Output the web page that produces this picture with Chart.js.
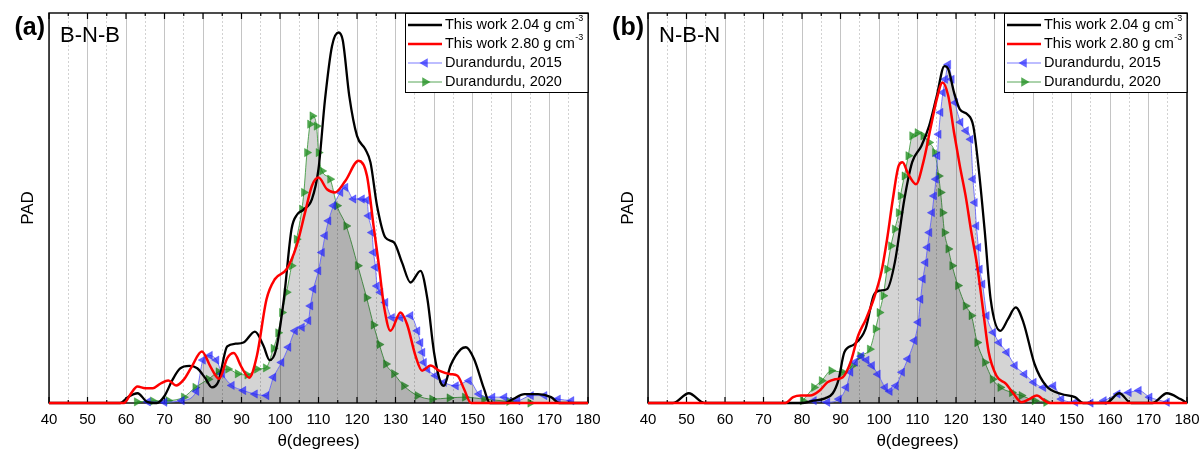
<!DOCTYPE html>
<html>
<head>
<meta charset="utf-8">
<script src="https://cdn.jsdelivr.net/npm/chart.js@4.4.0/dist/chart.umd.min.js"></script>
<style>
  html, body { margin: 0; padding: 0; background: #fff; }
  #wrap { display: flex; width: 1202px; height: 456px; }
  #wrap > div { position: relative; height: 456px; }
</style>
</head>
<body>
<div id="wrap">
  <div style="width:600px"><canvas id="chartA"></canvas></div>
  <div style="width:602px"><canvas id="chartB"></canvas></div>
</div>
<script>
// shared text
const FONT = "'Liberation Sans', Arial, sans-serif";
const seriesLabels = ['This work 2.04 g cm^-3', 'This work 2.80 g cm^-3', 'Durandurdu, 2015', 'Durandurdu, 2020'];
const panelLetters = ['(a)', '(b)'];
const panelNames = ['B-N-B', 'N-B-N'];

// ---- panel (a): B-N-B ----
const bnbBlackX = [40, 58.5, 60.5, 63, 65.5, 68, 70, 72, 74, 76.5, 78.5, 80.5, 82.3, 84, 86.3, 88.5, 90.5, 93.5, 95.7, 97.3, 99, 101, 103, 104.5, 106, 108.3, 110, 111.7, 113.5, 115.2, 116.3, 118, 120, 122.2, 123.5, 125.2, 127.4, 129.6, 131.7, 133.9, 136.5, 138.3, 140, 141.7, 142.6, 144.3, 147, 148.3, 150.4, 153, 154.5, 158.5, 160.5, 163.5, 167, 170.4, 172.5, 180];
const bnbBlackY = [0, 0, 1.5, 2.5, 0.3, 0, 1.8, 5.8, 8.8, 9.5, 8.9, 6.5, 4, 5.5, 14.5, 15.2, 15.5, 18.3, 14.7, 11, 13.8, 26.6, 44.6, 48.4, 49.5, 52.3, 60, 77.9, 91.5, 95, 93, 78.7, 68.5, 65, 61.7, 50.6, 42.4, 41.2, 36, 30.9, 33.9, 26.6, 13, 5.3, 4.4, 9.6, 13.8, 14.3, 11.3, 3.6, 0, 0, 1, 2.3, 2.3, 1.5, 0, 0];

const bnbRedX = [40, 59.5, 61, 63, 65, 67, 69, 71, 73, 75, 77, 79.7, 82, 84.2, 86.3, 88, 90, 92, 94, 96.5, 98.7, 101.7, 104.3, 106.5, 108.3, 110, 112.2, 114.3, 117, 120.4, 122.6, 124.3, 125.7, 127, 128.7, 131.3, 133, 135.2, 136.9, 139.1, 141.3, 144.3, 146.1, 147.8, 149.6, 180];
const bnbRedY = [0, 0, 2, 4.2, 3.8, 3.8, 5, 5.8, 4.5, 6, 9.2, 13.2, 9.2, 6.2, 11.5, 12.8, 9.2, 6.5, 12.1, 26.6, 31.8, 34.3, 40.3, 48.8, 55.7, 57.8, 54.8, 54, 57, 62.1, 58.2, 45.4, 35.2, 24.9, 18.5, 23.2, 20.2, 12.1, 8.3, 9.6, 8.3, 7.4, 7, 3.6, 0, 0];

const bnbBlueX = [65.7, 70, 74.5, 78.3, 80, 81.8, 83.5, 85, 87.5, 90.5, 93.5, 96.5, 98.3, 100.4, 102.2, 103.9, 105.7, 107.4, 107.9, 108.7, 110, 110.9, 111.7, 112.6, 113.9, 115.7, 117, 119.1, 121.3, 122.6, 123, 123.9, 124.3, 124.8, 125.2, 126.1, 127.4, 129.1, 131.3, 133.9, 135.7, 136.5, 137, 137.4, 138.3, 140.4, 142.6, 145.7, 149.1, 151.7, 155.2, 158.3, 161.7, 165.2, 168.7, 172.2, 175.7];
const bnbBlueY = [0.3, 0.2, 0.6, 3, 11, 12.2, 11, 7.5, 4.5, 3.2, 2.3, 1.9, 6.6, 10.4, 14.3, 18.5, 19.4, 21.1, 24.9, 29.2, 33.9, 38.6, 42.9, 46.7, 50.6, 54, 55.3, 52.3, 52.3, 52, 48, 43.7, 38.6, 34.8, 30, 28.4, 25.8, 21.9, 21.9, 22.4, 18.5, 15.5, 13, 10.4, 8.7, 7, 5.3, 4.4, 5.7, 2.3, 1.5, 1.5, 0.6, 1.9, 1.9, 1, 0.6];

const bnbGreenX = [62.8, 67, 71, 75, 78, 81.4, 84, 86.5, 89, 91.5, 94, 96.3, 98.3, 99.5, 100.5, 101.7, 103, 104.3, 105.7, 106.2, 107, 107.8, 108.4, 109.5, 110, 110.9, 113, 114.8, 117.2, 120.2, 122.5, 124.3, 125.8, 127.5, 129.6, 132.2, 135.7, 139.5, 144, 148, 153, 159.5, 165];
const bnbGreenY = [0.3, 0.5, 0.6, 1.5, 4, 6.1, 8, 8.7, 7.5, 7.2, 8.7, 9, 14, 18, 23.2, 28.4, 35.2, 42, 49.7, 54, 64.2, 71.5, 73.6, 71, 64.2, 59.5, 57.4, 50.6, 45.4, 35.2, 27, 20, 15, 10, 7.5, 4.4, 1.9, 1, 1.3, 1.5, 1, 0.4, 0];

// ---- panel (b): N-B-N ----
const nbnBlackX = [40, 46.5, 50.6, 54.7, 80, 82.5, 86, 88, 89.5, 91, 93.5, 96.5, 98.6, 100.1, 102.1, 104.1, 106.6, 108.6, 111, 113, 115, 117, 118, 119.5, 121, 123, 124.5, 126, 127.5, 129, 131.5, 133.5, 135.5, 137.5, 140.4, 143.4, 147.4, 150.9, 153, 159, 162.4, 165.5, 171, 174.8, 178.3, 180];
const nbnBlackY = [0, 0, 2.5, 0, 0, 0.5, 1.2, 2.5, 6, 13, 15, 19, 27.5, 28.8, 29.2, 36, 52.3, 61.7, 65.9, 71, 78.7, 86.4, 85.6, 79.6, 75.3, 74, 71, 59.1, 43.7, 26.6, 18.5, 21.5, 24.5, 20.7, 10, 4.4, 2.3, 1.5, 0, 0, 2.5, 0, 0, 2.5, 1, 0];

const nbnRedX = [40, 75.7, 77.7, 79.7, 82.1, 84.6, 86.6, 88.6, 90.6, 92.6, 94.6, 96.6, 98.6, 100.6, 102.1, 103.6, 105.1, 106.1, 107.6, 109.6, 111.5, 113.5, 115, 116.5, 118, 119.5, 121, 122.5, 124, 125.5, 127, 128.5, 130.5, 133, 135, 137, 139, 141, 143, 144.4, 180];
const nbnRedY = [0, 0, 1.5, 1.9, 1.9, 3.2, 5.3, 6.1, 6.6, 10.4, 17.3, 21.5, 26.6, 33.5, 42, 52.3, 60.8, 61.7, 58.7, 56.1, 61.7, 71, 77.9, 82.2, 78.7, 69.3, 60.8, 53.1, 43.7, 35.2, 24.1, 13, 7, 4.9, 2.3, 0.2, 1, 1.9, 0.6, 0, 0];

const nbnBlueX = [83.1, 86.6, 89.6, 91.5, 92.6, 93.8, 95.4, 96.8, 98.2, 99.7, 101.6, 102.8, 104.4, 106, 107.5, 109.2, 110.2, 110.8, 111.4, 112.1, 112.6, 113.1, 113.8, 114.3, 114.8, 115.2, 115.5, 116, 116.6, 117.2, 118, 118.9, 119.8, 121.2, 122.6, 123.8, 124.4, 124.9, 125.3, 125.8, 126.2, 126.9, 128, 129.7, 131.2, 133.2, 135.3, 137.8, 140.2, 142.7, 145.3, 147.4, 151, 155, 158.4, 162, 164.9, 167.5, 170.3, 174.8];
const nbnBlueY = [0.6, 0.2, 1, 4, 7.9, 10.5, 12, 11, 9.6, 7.4, 4, 3, 4.4, 7.9, 11.3, 16, 20.7, 26.6, 31.8, 36, 39.9, 43.7, 48.8, 53.1, 57.4, 63.4, 68.9, 74.5, 79.6, 83, 86.8, 83, 77, 72, 69.8, 67.6, 57.4, 51.4, 45.4, 39.9, 34.3, 30.5, 22.4, 18.1, 15.5, 13, 9.6, 7.4, 5.3, 4, 4.4, 1, 0.2, 0, 0.6, 2.3, 2.7, 3.2, 1.5, 0.2];

const nbnGreenX = [80.2, 83.1, 85.1, 87.6, 90.6, 93.1, 95.1, 97.6, 99.1, 100.1, 101.1, 102.1, 103.1, 104.1, 105.1, 105.6, 106.6, 107.6, 108.6, 110, 111.5, 113, 114.5, 115.5, 116, 116.5, 117, 118, 119, 120.5, 122.5, 124, 125.5, 127.5, 129.5, 131.5, 134.5, 137, 140.4, 143.4];
const nbnGreenY = [0.6, 4, 5.7, 8.3, 7.9, 9.6, 12.1, 13.8, 19, 23.2, 27.5, 34.3, 40.3, 44.6, 48.8, 53.1, 58.2, 63.4, 68.5, 69.3, 68.5, 66.8, 64.2, 58.2, 54, 48.8, 43.7, 39.5, 35.2, 30.1, 24.9, 22.4, 15.5, 10.4, 6.1, 4, 2.7, 1.9, 0.6, 0.2];

const toPoints = (xs, ys) => xs.map((x, i) => ({ x: x, y: ys[i] }));

// triangle marker for the legend, same geometry as chart.js 'triangle'
function drawTri(ctx, x, y, r, rot) {
  const a = rot * Math.PI / 180;
  ctx.beginPath();
  for (let k = 0; k < 3; k++) {
    const t = a + k * 2 * Math.PI / 3;
    const px = x + Math.sin(t) * r, py = y - Math.cos(t) * r;
    if (k) ctx.lineTo(px, py); else ctx.moveTo(px, py);
  }
  ctx.closePath();
  ctx.fill();
}

// frame, inward ticks, panel letter, name and boxed legend
const decor = {
  id: 'decor',
  beforeDatasetsDraw(chart) {
    const { ctx, chartArea: a, scales: { x } } = chart;
    ctx.save();
    ctx.strokeStyle = '#000';
    ctx.lineWidth = 1.4;
    ctx.strokeRect(a.left, a.top, a.right - a.left, a.bottom - a.top);
    ctx.lineWidth = 1.2;
    x.ticks.forEach(t => {
      const px = x.getPixelForValue(t.value);
      const len = Math.round(t.value) % 10 === 0 ? 6 : 3;
      ctx.beginPath();
      ctx.moveTo(px, a.bottom); ctx.lineTo(px, a.bottom - len);
      ctx.moveTo(px, a.top); ctx.lineTo(px, a.top + len);
      ctx.stroke();
    });
    ctx.restore();
  },
  afterDatasetsDraw(chart, args, opts) {
    const { ctx, chartArea: a } = chart;
    ctx.save();
    ctx.fillStyle = '#000';
    ctx.textBaseline = 'middle';
    ctx.textAlign = 'right';
    ctx.font = `bold 25px ${FONT}`;
    ctx.fillText(opts.letter, a.left - 4, a.top + 15);
    ctx.textAlign = 'left';
    ctx.font = `22px ${FONT}`;
    ctx.fillText(opts.name, a.left + 11, a.top + 23);

    // legend box
    const L = 183, H = 79;
    const x0 = a.right - L, y0 = a.top;
    ctx.fillStyle = '#fff';
    ctx.fillRect(x0, y0, L, H);
    ctx.strokeStyle = '#000';
    ctx.lineWidth = 1;
    ctx.strokeRect(x0 + 0.5, y0 + 0.5, L - 0.5, H);
    chart.data.datasets.forEach((ds, i) => {
      const cy = y0 + 12 + i * 19;
      ctx.strokeStyle = ds.borderColor;
      ctx.lineWidth = ds.pointRadius ? 1 : 2.5;
      ctx.beginPath();
      ctx.moveTo(x0 + 3, cy); ctx.lineTo(x0 + 37, cy);
      ctx.stroke();
      if (ds.pointRadius) {
        ctx.fillStyle = ds.pointBackgroundColor;
        drawTri(ctx, x0 + 20, cy, 5.5, ds.rotation);
      }
      const parts = ds.label.split('^');
      ctx.fillStyle = '#000';
      ctx.font = `14.5px ${FONT}`;
      ctx.fillText(parts[0], x0 + 40, cy);
      if (parts[1]) {
        const w = ctx.measureText(parts[0]).width;
        ctx.font = `9px ${FONT}`;
        ctx.fillText(parts[1], x0 + 40 + w + 0.5, cy - 6);
      }
    });
    ctx.restore();
  }
};

function buildPanel(canvasId, idx, s, axisWidth, padRight) {
  const lineCommon = { cubicInterpolationMode: 'monotone', tension: 0.4, clip: 6 };
  return new Chart(document.getElementById(canvasId).getContext('2d'), {
    type: 'line',
    data: {
      datasets: [
        Object.assign({
          label: seriesLabels[0], data: toPoints(s.blackX, s.blackY),
          borderColor: '#000', borderWidth: 2.3, pointRadius: 0, order: 1
        }, lineCommon),
        Object.assign({
          label: seriesLabels[1], data: toPoints(s.redX, s.redY),
          borderColor: '#ff0000', borderWidth: 2.5, pointRadius: 0, order: 0
        }, lineCommon),
        Object.assign({
          label: seriesLabels[2], data: toPoints(s.blueX, s.blueY),
          borderColor: 'rgba(90,90,255,0.8)', borderWidth: 1,
          pointStyle: 'triangle', rotation: -90, pointRadius: 4.8, pointBorderWidth: 0.5,
          pointBackgroundColor: 'rgba(30,30,255,0.68)', pointBorderColor: 'rgba(30,30,255,0.68)',
          fill: 'origin', backgroundColor: 'rgba(0,0,0,0.17)', order: 2
        }, lineCommon),
        Object.assign({
          label: seriesLabels[3], data: toPoints(s.greenX, s.greenY),
          borderColor: 'rgba(60,150,60,0.85)', borderWidth: 1,
          pointStyle: 'triangle', rotation: 90, pointRadius: 4.8, pointBorderWidth: 0.5,
          pointBackgroundColor: 'rgba(25,140,25,0.75)', pointBorderColor: 'rgba(25,140,25,0.75)',
          fill: 'origin', backgroundColor: 'rgba(0,0,0,0.17)', order: 3
        }, lineCommon)
      ]
    },
    options: {
      responsive: true,
      maintainAspectRatio: false,
      animation: false,
      layout: { padding: { top: 13, right: padRight, left: 0, bottom: 0 } },
      plugins: {
        legend: { display: false },
        tooltip: { enabled: false },
        decor: { letter: panelLetters[idx], name: panelNames[idx] }
      },
      scales: {
        x: {
          type: 'linear', min: 40, max: 180,
          ticks: {
            stepSize: 5, autoSkip: false, maxRotation: 0, padding: 8, color: '#000',
            font: { family: FONT, size: 15 },
            callback: v => (Math.round(v) % 10 === 0 ? v : '')
          },
          grid: {
            drawTicks: false, lineWidth: 1,
            color: c => (c.tick && Math.round(c.tick.value) % 10 === 0 ? '#c4c4c4' : '#d2d2d2')
          },
          border: {
            display: false,
            dash: c => (c.tick && Math.round(c.tick.value) % 10 !== 0 ? [2, 2] : [])
          },
          title: {
            display: true, text: 'θ(degrees)', color: '#000',
            font: { family: FONT, size: 17 }, padding: { top: 0, bottom: 4 }
          },
          afterFit: sc => { sc.height = 53; sc.paddingLeft = 0; sc.paddingRight = 0; }
        },
        y: {
          min: 0, max: 100,
          ticks: { display: false },
          grid: { display: false, drawTicks: false },
          border: { display: false },
          title: {
            display: true, text: 'PAD', color: '#000',
            font: { family: FONT, size: 17 }, padding: { top: 18, bottom: 10 }
          },
          afterFit: sc => { sc.width = axisWidth; }
        }
      }
    },
    plugins: [decor]
  });
}

buildPanel('chartA', 0, {
  blackX: bnbBlackX, blackY: bnbBlackY, redX: bnbRedX, redY: bnbRedY,
  blueX: bnbBlueX, blueY: bnbBlueY, greenX: bnbGreenX, greenY: bnbGreenY
}, 49, 12);

buildPanel('chartB', 1, {
  blackX: nbnBlackX, blackY: nbnBlackY, redX: nbnRedX, redY: nbnRedY,
  blueX: nbnBlueX, blueY: nbnBlueY, greenX: nbnGreenX, greenY: nbnGreenY
}, 48, 15);
</script>
</body>
</html>
